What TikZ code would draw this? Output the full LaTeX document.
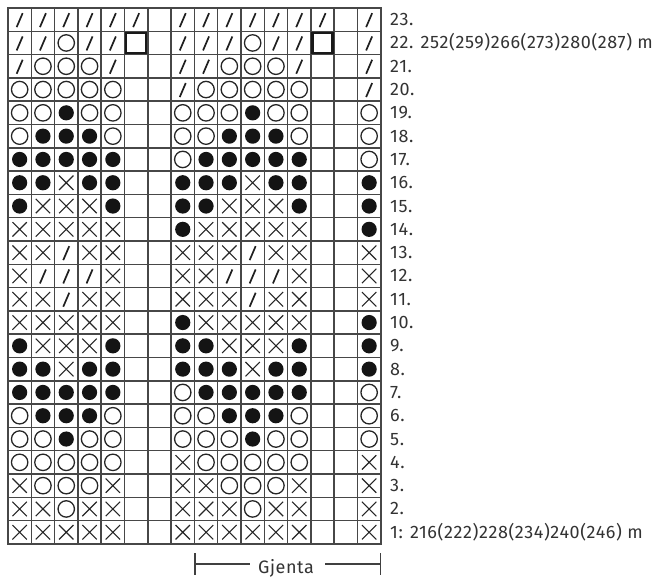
\documentclass[tikz,border=0pt]{standalone}
\usepackage{fontspec}
\setmainfont{Fira Sans}[LetterSpace=3.3]
\begin{document}
\begin{tikzpicture}[x=1pt,y=-1pt,
  gridline/.style={draw=black!72,line width=1.5pt},
  outline/.style={draw=black!72,line width=2.4pt},
  symline/.style={draw=black!85,line width=1.3pt},
  lbl/.style={anchor=base west,inner sep=0pt,text=black!80,font=\fontsize{18}{21}\selectfont},
  sym s/.pic={\draw[draw=black!88,line width=1.7pt] (-3pt,-7.5pt) -- (3pt,6.5pt);},
  sym o/.pic={\draw[symline] (0,0) circle[radius=8.2pt];},
  sym f/.pic={\fill[black!92] (0,0) circle[radius=7.6pt];},
  sym x/.pic={\draw[symline,line width=1.1pt] (-7.2pt,-7.2pt) -- (7.2pt,7.2pt) (-7.2pt,7.2pt) -- (7.2pt,-7.2pt);},
  sym b/.pic={\draw[draw=black!90,line width=2.6pt] (-10pt,-10pt) rectangle (10pt,10pt);},
  sym n/.pic={}
]
\useasboundingbox (0,0) rectangle (657,580);
\def\cs{23.3}
% grid lines
\foreach \i in {1,...,15} {\draw[gridline] ({8+\i*\cs},8) -- ({8+\i*\cs},543.9);}
\foreach \j in {1,...,22} {\draw[gridline] (8,{8+\j*\cs}) -- (380.8,{8+\j*\cs});}
\draw[outline] (8,8) rectangle (380.8,543.9);
% symbols
\foreach \r/\cells in {
 23/{s,s,s,s,s,s,n,s,s,s,s,s,s,s,n,s},
 22/{s,s,o,s,s,b,n,s,s,s,o,s,s,b,n,s},
 21/{s,o,o,o,s,n,n,s,s,o,o,o,s,n,n,s},
 20/{o,o,o,o,o,n,n,s,o,o,o,o,o,n,n,s},
 19/{o,o,f,o,o,n,n,o,o,o,f,o,o,n,n,o},
 18/{o,f,f,f,o,n,n,o,o,f,f,f,o,n,n,o},
 17/{f,f,f,f,f,n,n,o,f,f,f,f,f,n,n,o},
 16/{f,f,x,f,f,n,n,f,f,f,x,f,f,n,n,f},
 15/{f,x,x,x,f,n,n,f,f,x,x,x,f,n,n,f},
 14/{x,x,x,x,x,n,n,f,x,x,x,x,x,n,n,f},
 13/{x,x,s,x,x,n,n,x,x,x,s,x,x,n,n,x},
 12/{x,s,s,s,x,n,n,x,x,s,s,s,x,n,n,x},
 11/{x,x,s,x,x,n,n,x,x,x,s,x,x,n,n,x},
 10/{x,x,x,x,x,n,n,f,x,x,x,x,x,n,n,f},
 9/{f,x,x,x,f,n,n,f,f,x,x,x,f,n,n,f},
 8/{f,f,x,f,f,n,n,f,f,f,x,f,f,n,n,f},
 7/{f,f,f,f,f,n,n,o,f,f,f,f,f,n,n,o},
 6/{o,f,f,f,o,n,n,o,o,f,f,f,o,n,n,o},
 5/{o,o,f,o,o,n,n,o,o,o,f,o,o,n,n,o},
 4/{o,o,o,o,o,n,n,x,o,o,o,o,o,n,n,x},
 3/{x,o,o,o,x,n,n,x,x,o,o,o,x,n,n,x},
 2/{x,x,o,x,x,n,n,x,x,x,o,x,x,n,n,x},
 1/{x,x,x,x,x,n,n,x,x,x,x,x,x,n,n,x}} {
  \foreach \c [count=\i] in \cells {
    \pic at ({8+(\i-0.5)*\cs},{8+(23-\r+0.5)*\cs}) {sym \c};
  }
}
% row labels
\foreach \r in {2,...,21,23} {
  \node[lbl] (r\r) at (390,{8+(23-\r+0.5)*\cs+6}) {\r.};
}
\node[lbl] (r22) at (390,{8+0.5*\cs+\cs+6}) {22. 252(259)266(273)280(287) m};
\node[lbl] (r1) at (390,{8+22.5*\cs+6}) {1: 216(222)228(234)240(246) m};
% repeat bracket
\coordinate (bl) at (195,564);
\coordinate (br) at (380.5,564);
\node[lbl,anchor=base,inner sep=0pt] (gj) at (286,573.5) {Gjenta};
\draw[draw=black!75,line width=1.2pt] (195,553) -- (195,575);
\draw[draw=black!75,line width=1.2pt] (380.5,553) -- (380.5,575);
\draw[draw=black!75,line width=1.1pt] (bl) -- (250,564);
\draw[draw=black!75,line width=1.1pt] (325,564) -- (br);
\end{tikzpicture}
\end{document}
